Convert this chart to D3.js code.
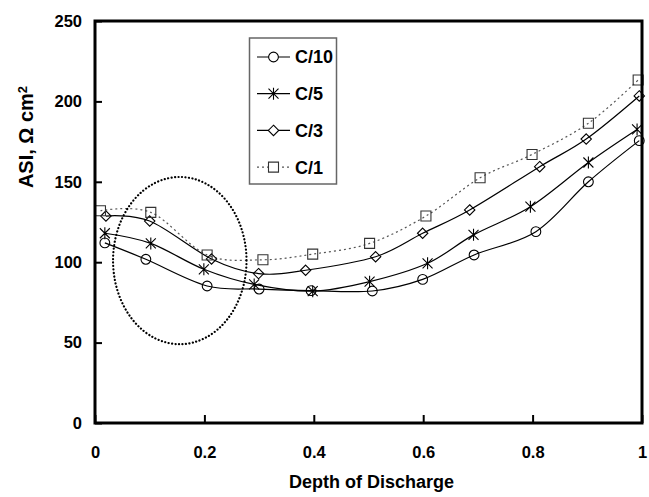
<!DOCTYPE html>
<html>
<head>
<meta charset="utf-8">
<script src="https://cdn.jsdelivr.net/npm/d3@7"></script>
<style>
  body { margin: 0; background: #fff; }
  text { font-family: Arial, "Liberation Sans", sans-serif; font-weight: bold; fill: #000; }
</style>
</head>
<body>
<div id="chart"></div>
<script>
// values
const depthC10 = [0.018, 0.093, 0.205, 0.300, 0.395, 0.507, 0.599, 0.693, 0.806, 0.902, 0.995];
const asiC10   = [112, 101.8, 85.2, 83.3, 82.3, 82.1, 89.3, 104.5, 119, 150, 175.6];
const depthC5  = [0.018, 0.102, 0.199, 0.291, 0.398, 0.502, 0.608, 0.692, 0.796, 0.902, 0.991];
const asiC5    = [118, 111.7, 95.6, 86.2, 82, 87.9, 99.3, 117, 134.5, 162, 182.6];
const depthC3  = [0.020, 0.100, 0.213, 0.299, 0.385, 0.513, 0.599, 0.685, 0.813, 0.898, 0.995];
const asiC3    = [128.7, 125.6, 102, 92.9, 95, 103.4, 118, 132.5, 159.4, 176.6, 203.4];
const depthC1  = [0.010, 0.102, 0.205, 0.307, 0.398, 0.502, 0.605, 0.704, 0.799, 0.902, 0.993];
const asiC1    = [132, 131, 104.5, 101.5, 105, 111.7, 128.7, 152.5, 167, 186.4, 213.3];

const seriesNames = ["C/10", "C/5", "C/3", "C/1"];
const xTicks = [0, 0.2, 0.4, 0.6, 0.8, 1];
const yTicks = [0, 50, 100, 150, 200, 250];

// dotted ellipse annotation (data units)
const ellipseCenter = [0.155, 101];
const ellipseRadius = [0.122, 52];

const width = 649, height = 497;
const margin = { top: 21, right: 7, bottom: 74, left: 95 };

const svg = d3.select("#chart").append("svg")
    .attr("width", width)
    .attr("height", height);

const xScale = d3.scaleLinear().domain([0, 1]).range([margin.left, width - margin.right]);
const yScale = d3.scaleLinear().domain([0, 250]).range([height - margin.bottom, margin.top]);

const series = [
  { name: seriesNames[0], x: depthC10, y: asiC10, marker: "circle", dash: null, color: "#000" },
  { name: seriesNames[1], x: depthC5,  y: asiC5,  marker: "star",   dash: null, color: "#000" },
  { name: seriesNames[2], x: depthC3,  y: asiC3,  marker: "diamond", dash: null, color: "#000" },
  { name: seriesNames[3], x: depthC1,  y: asiC1,  marker: "square", dash: "2,3", color: "#555" }
];

function markerPath(type) {
  if (type === "circle") return d3.symbol(d3.symbolCircle, 75)();
  if (type === "square") return d3.symbol(d3.symbolSquare, 100)();
  if (type === "diamond") return "M0,-5.2L5.2,0L0,5.2L-5.2,0Z";
  return "M0,-6V6M-5,-5L5,5M-5,5L5,-5";
}

const line = d3.line()
    .x(d => xScale(d[0]))
    .y(d => yScale(d[1]))
    .curve(d3.curveCatmullRom.alpha(0));

// lines
series.forEach(s => {
  const pts = s.x.map((v, i) => [v, s.y[i]]);
  svg.append("path")
      .attr("d", line(pts))
      .attr("fill", "none")
      .attr("stroke", s.color)
      .attr("stroke-width", 1.2)
      .attr("stroke-dasharray", s.dash);
});

// markers
series.forEach(s => {
  svg.append("g")
    .selectAll("path")
    .data(s.x.map((v, i) => [v, s.y[i]]))
    .enter()
    .append("path")
      .attr("transform", d => `translate(${xScale(d[0])},${yScale(d[1])})`)
      .attr("d", markerPath(s.marker))
      .attr("fill", "none")
      .attr("stroke", s.marker === "square" ? "#333" : "#000")
      .attr("stroke-width", 1.1);
});

// dotted ellipse
svg.append("ellipse")
    .attr("cx", xScale(ellipseCenter[0]))
    .attr("cy", yScale(ellipseCenter[1]))
    .attr("rx", xScale(ellipseRadius[0]) - xScale(0))
    .attr("ry", yScale(0) - yScale(ellipseRadius[1]))
    .attr("fill", "none")
    .attr("stroke", "#000")
    .attr("stroke-width", 2.2)
    .attr("stroke-linecap", "round")
    .attr("stroke-dasharray", "0.1,3.4");

// axes
const xAxis = d3.axisBottom(xScale)
    .tickValues(xTicks)
    .tickFormat(d => d === 0 || d === 1 ? d3.format("d")(d) : d3.format(".1f")(d))
    .tickSizeInner(-8).tickSizeOuter(0).tickPadding(23);
const yAxis = d3.axisLeft(yScale)
    .tickValues(yTicks)
    .tickSizeInner(-7).tickSizeOuter(0).tickPadding(13);

const gx = svg.append("g")
    .attr("transform", `translate(0,${height - margin.bottom})`)
    .call(xAxis);
const gy = svg.append("g")
    .attr("transform", `translate(${margin.left},0)`)
    .call(yAxis);

[gx, gy].forEach(g => {
  g.select(".domain").remove();
  g.selectAll(".tick line").attr("stroke", "#000").attr("stroke-width", 2);
  g.selectAll(".tick text")
      .style("font-size", "16.5px")
      .style("font-family", "Arial, 'Liberation Sans', sans-serif")
      .style("font-weight", "bold")
      .attr("fill", "#000");
});

// frame
svg.append("rect")
    .attr("x", margin.left)
    .attr("y", margin.top)
    .attr("width", width - margin.left - margin.right)
    .attr("height", height - margin.top - margin.bottom)
    .attr("fill", "none")
    .attr("stroke", "#000")
    .attr("stroke-width", 3);

// axis titles
svg.append("text")
    .attr("x", (margin.left + width - margin.right) / 2 + 3)
    .attr("y", 488)
    .attr("text-anchor", "middle")
    .style("font-size", "18px")
    .text("Depth of Discharge");

const yTitle = svg.append("text")
    .attr("transform", "translate(33,137) rotate(-90)")
    .attr("text-anchor", "middle")
    .style("font-size", "20px");
yTitle.append("tspan").text("ASI, Ω cm");
yTitle.append("tspan").attr("dy", "-0.45em").style("font-size", "13px").text("2");

// legend
const legend = svg.append("g");
legend.append("rect")
    .attr("x", 249.5).attr("y", 38)
    .attr("width", 87).attr("height", 146)
    .attr("fill", "#fff")
    .attr("stroke", "#666")
    .attr("stroke-width", 1.5);

series.forEach((s, i) => {
  const ly = 57 + i * 36.7;
  const g = legend.append("g");
  g.append("line")
      .attr("x1", 257).attr("x2", 290)
      .attr("y1", ly).attr("y2", ly)
      .attr("stroke", s.color)
      .attr("stroke-width", 1.2)
      .attr("stroke-dasharray", s.dash);
  g.append("path")
      .attr("transform", `translate(273.5,${ly})`)
      .attr("d", markerPath(s.marker))
      .attr("fill", "#fff")
      .attr("stroke", s.marker === "square" ? "#333" : "#000")
      .attr("stroke-width", 1.1);
  g.append("text")
      .attr("x", 295)
      .attr("y", ly)
      .attr("dy", "0.36em")
      .style("font-size", "18px")
      .text(s.name);
});
</script>
</body>
</html>
